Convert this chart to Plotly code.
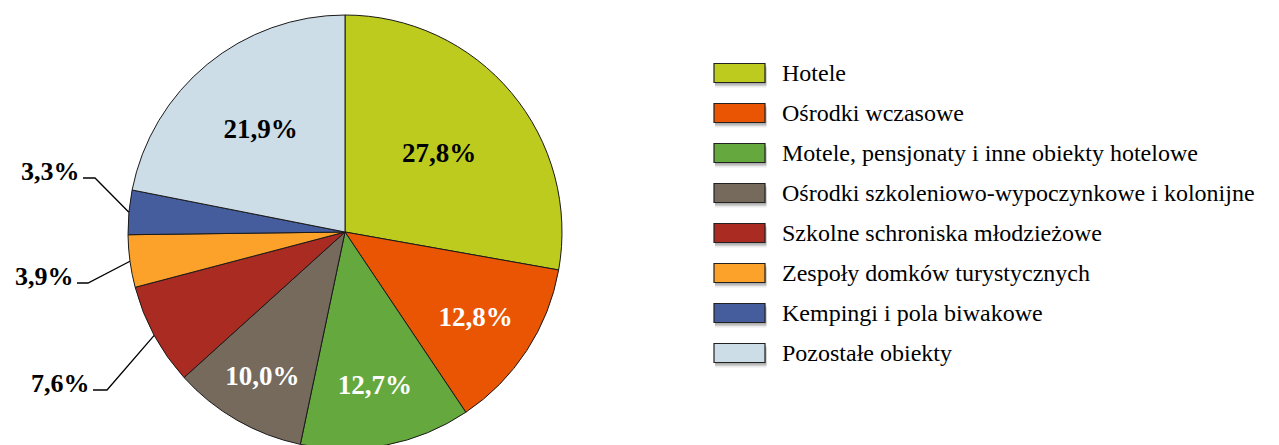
import math
import plotly.graph_objects as go

# ---- data ----
categories = [
    "Hotele",
    "Ośrodki wczasowe",
    "Motele, pensjonaty i inne obiekty hotelowe",
    "Ośrodki szkoleniowo-wypoczynkowe i kolonijne",
    "Szkolne schroniska młodzieżowe",
    "Zespoły domków turystycznych",
    "Kempingi i pola biwakowe",
    "Pozostałe obiekty",
]
shares = [27.8, 12.8, 12.7, 10.0, 7.6, 3.9, 3.3, 21.9]
colors = ["#BDCB1F", "#EA5504", "#64A83E", "#756A5C", "#A92B21", "#FCA12A", "#455D9D", "#CCDDE8"]
inside_text_colors = ["black", "white", "white", "white", "white", "white", "white", "black"]
outside_labels = {4, 5, 6}  # indices labelled outside with leader lines

# ---- layout geometry (page pixels; the page body adds an 8px offset) ----
OFF = 8
W, H = 1279 - OFF, 445
CX, CY, R = 345, 232, 217
SERIF = "Liberation Serif, Times New Roman, serif"


def px(x):
    return (x - OFF) / W


def py(y):
    return 1 - (y - OFF) / H


labels_txt = [f"{v:.1f}".replace(".", ",") + "%" for v in shares]
textpos = ["none" if i in outside_labels else "inside" for i in range(len(shares))]

fig = go.Figure(
    go.Pie(
        labels=categories,
        values=shares,
        text=labels_txt,
        textinfo="text",
        textposition=textpos,
        insidetextorientation="horizontal",
        insidetextfont=dict(family=SERIF, size=27, color=inside_text_colors, weight="bold"),
        sort=False,
        direction="clockwise",
        rotation=0,
        marker=dict(colors=colors, line=dict(color="#1a1a1a", width=1)),
        domain=dict(x=[px(CX - R), px(CX + R)], y=[py(CY + R), py(CY - R)]),
        hoverinfo="label+percent",
        showlegend=False,
    )
)

shapes = []
annotations = []

# ---- outside labels with elbow leader lines (elbow placement per label) ----
elbows = {6: (95, 178, 12), 5: (88, 283, 11), 4: (107, 390, 14)}
total = sum(shares)
cum = 0.0
for i, v in enumerate(shares):
    mid = (cum + v / 2) / total * 2 * math.pi
    cum += v
    if i not in outside_labels:
        continue
    ex, ey = CX + R * math.sin(mid), CY - R * math.cos(mid)
    bx, by, hl = elbows[i]
    sx = bx - hl
    shapes.append(dict(
        type="path", xref="paper", yref="paper",
        path=f"M {px(sx)} {py(by)} L {px(bx)} {py(by)} L {px(ex)} {py(ey)}",
        line=dict(color="black", width=1.3),
    ))
    annotations.append(dict(
        x=px(sx - 1), y=py(by - 7), xref="paper", yref="paper",
        xanchor="right", yanchor="middle", showarrow=False,
        text=labels_txt[i],
        font=dict(family=SERIF, size=26, color="black", weight="bold"),
    ))

# ---- legend ----
LX0, LX1, LY0, STEP, SH = 714, 765, 73, 40, 19
for i, (name, col) in enumerate(zip(categories, colors)):
    yc = LY0 + STEP * i
    for off, a in ((5, 0.08), (3.5, 0.12), (2, 0.16)):
        shapes.append(dict(
            type="rect", xref="paper", yref="paper",
            x0=px(LX0 + 1), x1=px(LX1 + 1.5),
            y0=py(yc + SH / 2 + off), y1=py(yc - SH / 2 + off),
            fillcolor=f"rgba(0,0,0,{a})", line=dict(width=0),
        ))
    shapes.append(dict(
        type="rect", xref="paper", yref="paper",
        x0=px(LX0), x1=px(LX1), y0=py(yc + SH / 2), y1=py(yc - SH / 2),
        fillcolor=col, line=dict(color="#222222", width=1.2),
    ))
    annotations.append(dict(
        x=px(780), y=py(yc), xref="paper", yref="paper",
        xanchor="left", yanchor="middle", showarrow=False,
        text=name, font=dict(family=SERIF, size=24, color="black"),
    ))

fig.update_layout(
    width=W, height=H,
    margin=dict(l=0, r=0, t=0, b=0),
    paper_bgcolor="white", plot_bgcolor="white",
    shapes=shapes, annotations=annotations,
    showlegend=False,
)

fig.write_html("out.html")
